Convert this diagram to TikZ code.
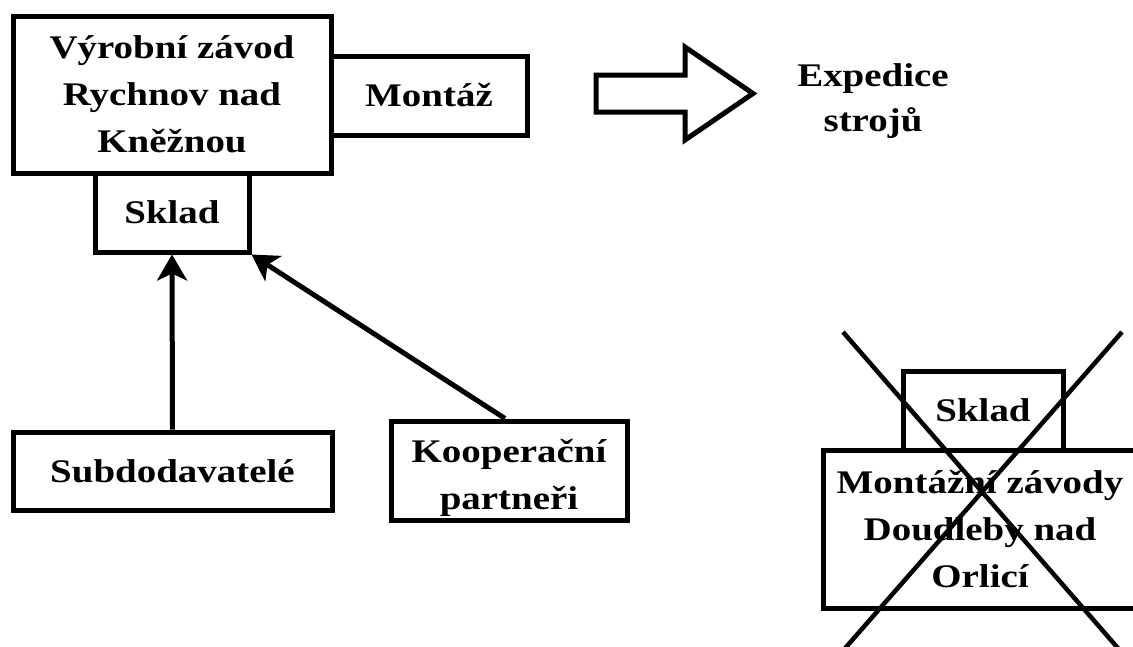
\documentclass[tikz,border=0pt]{standalone}
\usepackage{fontspec}
\setmainfont[FakeStretch=1.18]{Liberation Serif}
\usetikzlibrary{arrows.meta}
\begin{document}
\begin{tikzpicture}[x=1pt,y=-1pt,
  lbl/.style={inner sep=0pt, align=center, font=\bfseries\fontsize{33}{47}\selectfont},
  box/.style={lbl, draw, line width=5pt, rectangle},
  conn/.style={line width=5pt, -{Stealth[length=26pt,width=30pt,inset=7pt]}},
  blockarrow/.style={draw, line width=5pt, line join=miter},
  cross/.style={line width=4.5pt}]
\useasboundingbox (0,0) rectangle (1133,646);
\fill[white] (0,0) rectangle (1133,646);
\clip (0,0) rectangle (1133,646);

% top left group
\node[box, minimum width=318pt, minimum height=157pt] (main) at (172,94.5) {Výrobní závod\\Rychnov nad\\Kněžnou};
\node[box, minimum width=196pt, minimum height=79pt] (montaz) at (429,95.5) {Montáž};
\node[box, minimum width=154pt, minimum height=79pt] (sklad) at (172,212.5) {Sklad};

% suppliers
\node[box, minimum width=319pt, minimum height=78pt] (subd) at (172.5,471) {Subdodavatelé};
\node[box, minimum width=236pt, minimum height=99pt] (koop) at (509,470.5) {};
\node[lbl] (kooptext) at (509,478) {Kooperační\\partneři};

\draw[conn] (subd.north) -- (sklad.south);
\draw[conn] ([xshift=-4pt]koop.north) -- (sklad.south east);

% block arrow and expedition
\draw[blockarrow] (596,75) -- (685,75) -- (685,47) -- (753,93.5) -- (685,140) -- (685,112) -- (596,112) -- cycle;
\node[lbl, font=\bfseries\fontsize{33}{45}\selectfont] (exped) at (873,101) {Expedice\\strojů};

% crossed-out plant
\node[box, minimum width=160pt, minimum height=79pt] (sklad2) at (983,410.5) {Sklad};
\node[box, minimum width=314pt, minimum height=158pt] (montazni) at (980,529) {Montážní závody\\Doudleby nad\\Orlicí};
\coordinate (xa1) at (843,332);
\coordinate (xa2) at (1130,662);
\coordinate (xb1) at (1122,332);
\coordinate (xb2) at (833,662);
\draw[cross] (xa1) -- (xa2);
\draw[cross] (xb1) -- (xb2);
\end{tikzpicture}
\end{document}
